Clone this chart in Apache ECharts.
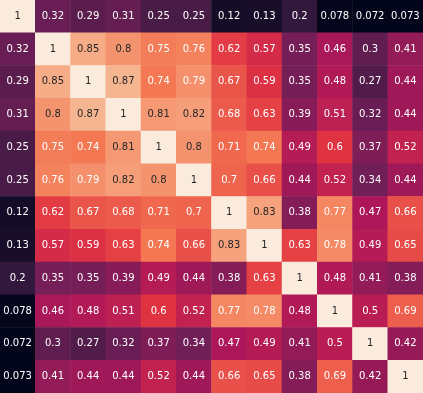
<!DOCTYPE html>
<html>
<head>
<meta charset="utf-8">
<script src="https://cdn.jsdelivr.net/npm/echarts@6/dist/echarts.min.js"></script>
<style>
  html, body { margin: 0; padding: 0; background: #fff; }
  #chart { width: 423px; height: 393px; }
</style>
</head>
<body>
<div id="chart"></div>
<script>
var labels = ['0', '1', '2', '3', '4', '5', '6', '7', '8', '9', '10', '11'];

// correlation rows, top to bottom
var row0  = [1, 0.32, 0.29, 0.31, 0.25, 0.25, 0.12, 0.13, 0.2, 0.078, 0.072, 0.073];
var row1  = [0.32, 1, 0.85, 0.8, 0.75, 0.76, 0.62, 0.57, 0.35, 0.46, 0.3, 0.41];
var row2  = [0.29, 0.85, 1, 0.87, 0.74, 0.79, 0.67, 0.59, 0.35, 0.48, 0.27, 0.44];
var row3  = [0.31, 0.8, 0.87, 1, 0.81, 0.82, 0.68, 0.63, 0.39, 0.51, 0.32, 0.44];
var row4  = [0.25, 0.75, 0.74, 0.81, 1, 0.8, 0.71, 0.74, 0.49, 0.6, 0.37, 0.52];
var row5  = [0.25, 0.76, 0.79, 0.82, 0.8, 1, 0.7, 0.66, 0.44, 0.52, 0.34, 0.44];
var row6  = [0.12, 0.62, 0.67, 0.68, 0.71, 0.7, 1, 0.83, 0.38, 0.77, 0.47, 0.66];
var row7  = [0.13, 0.57, 0.59, 0.63, 0.74, 0.66, 0.83, 1, 0.63, 0.78, 0.49, 0.65];
var row8  = [0.2, 0.35, 0.35, 0.39, 0.49, 0.44, 0.38, 0.63, 1, 0.48, 0.41, 0.38];
var row9  = [0.078, 0.46, 0.48, 0.51, 0.6, 0.52, 0.77, 0.78, 0.48, 1, 0.5, 0.69];
var row10 = [0.072, 0.3, 0.27, 0.32, 0.37, 0.34, 0.47, 0.49, 0.41, 0.5, 1, 0.42];
var row11 = [0.073, 0.41, 0.44, 0.44, 0.52, 0.44, 0.66, 0.65, 0.38, 0.69, 0.42, 1];

var rows = [row0, row1, row2, row3, row4, row5, row6, row7, row8, row9, row10, row11];

// rocket colormap
var rocket = ['#03051a', '#35193e', '#701f57', '#ad1759', '#e13342', '#f37651', '#f6b48f', '#faebdd'];

var data = [];
rows.forEach(function (r, y) {
    r.forEach(function (v, x) {
        data.push({
            value: [x, y, v],
            label: { color: v >= 0.8 ? '#262626' : '#ffffff' }
        });
    });
});

var chart = echarts.init(document.getElementById('chart'));
chart.setOption({
    animation: false,
    grid: { left: 0, right: 0, top: 0, bottom: 0 },
    xAxis: {
        type: 'category', data: labels, show: false
    },
    yAxis: {
        type: 'category', data: labels, inverse: true, show: false
    },
    visualMap: {
        show: false,
        min: 0.072,
        max: 1,
        dimension: 2,
        inRange: { color: rocket }
    },
    series: [{
        type: 'heatmap',
        data: data,
        label: {
            show: true,
            fontFamily: 'DejaVu Sans',
            fontSize: 10,
            formatter: function (p) { return String(p.value[2]); }
        },
        itemStyle: { borderWidth: 0 }
    }]
});
</script>
</body>
</html>
